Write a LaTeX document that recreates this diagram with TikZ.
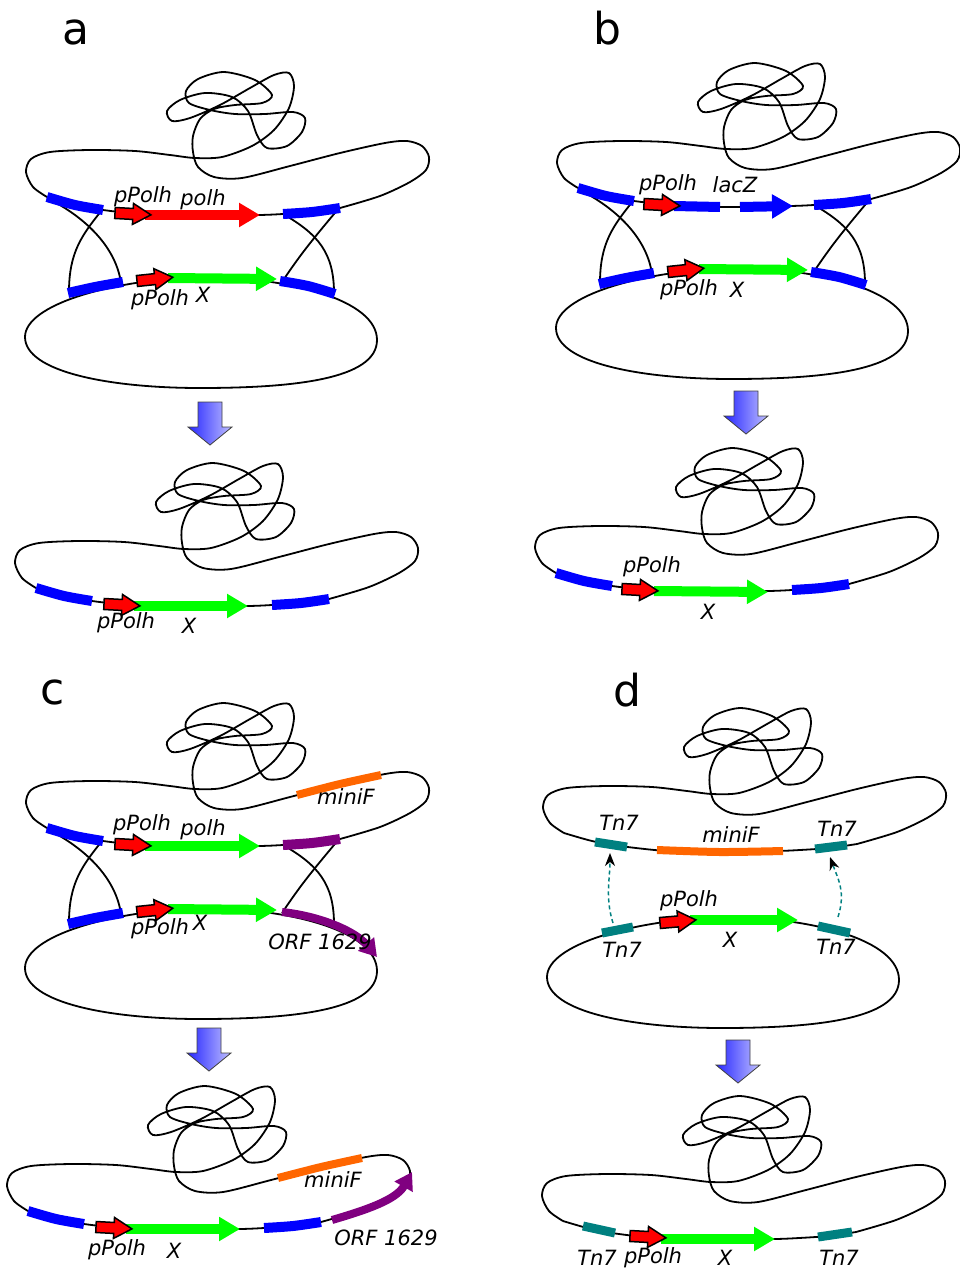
\documentclass[tikz,border=0pt]{standalone}
\usepackage{fontspec}
\setmainfont{DejaVu Sans}
\usetikzlibrary{arrows.meta}

\definecolor{genegreen}{RGB}{0,255,0}
\definecolor{minifo}{RGB}{255,102,0}
\definecolor{orfpurple}{RGB}{128,0,128}
\definecolor{tnteal}{RGB}{0,128,128}

\tikzset{
	dna/.style={line width=1.8pt, line join=round},
	site/.style={line width=10pt},
	gene/.style={line width=10pt, -{Triangle[width=23pt,length=21pt]}},
	orf/.style={orfpurple, line width=8pt, -{Triangle[width=20pt,length=17pt]}},
	hop/.style={tnteal, line width=1.5pt, dash pattern=on 4pt off 3pt,
		-{Stealth[color=black,width=10pt,length=13pt,inset=4pt]}},
	lbl/.style={font=\fontsize{21}{24}\selectfont\itshape, inner sep=0pt},
	tag/.style={font=\fontsize{44}{50}\selectfont, inner sep=0pt},
	% bacmid: loop, tangle and the strand carrying the genes
	bacmid/.pic={
		\draw[dna] plot[smooth] coordinates {
			(47,197) (33,187) (26,172) (31,159) (50,152) (90,150) (135,151) (170,155) (195,158)
			(222,157) (252,146) (274,130) (289,108) (294,86) (289,73) (274,75) (250,88) (220,105)
			(190,118) (172,121) (167,111) (180,100) (205,93) (232,97) (248,111) (257,135) (267,148)
			(287,146) (302,132) (305,118) (293,112) (265,114) (235,114) (210,110) (189,103) (186,91)
			(198,79) (224,72) (255,80) (272,95) (262,103) (235,105) (214,109) (200,119) (193,136)
			(193,152) (198,167) (214,177) (242,178) (290,166) (340,153) (385,143) (407,141)
			(422,146) (429,157) (426,170) (410,182) (380,196) (340,208)};
		\draw[dna] plot[smooth] coordinates {(47,197) (75,205) (103,210) (150,215) (205,216)
			(260,215) (283,214) (312,212) (340,208)};
	},
	% transfer vector
	donor/.pic={
		\draw[dna] (25,337) .. controls (25,305) and (110,280) .. (200,277)
			.. controls (290,277) and (377,300) .. (377,340)
			.. controls (377,380) and (290,388) .. (200,388)
			.. controls (110,388) and (25,372) .. (25,337) -- cycle;
	},
	% the two crossings between bacmid and vector
	crossover/.pic={
		\coordinate (-tl1) at (47,198); \coordinate (-tl2) at (102,210);
		\coordinate (-tr1) at (283,214); \coordinate (-tr2) at (339,208);
		\coordinate (-bl1) at (69,292); \coordinate (-bl2) at (121,283);
		\coordinate (-br1) at (282,282); \coordinate (-br2) at (334,293);
		\draw[dna] (-tl1) .. controls +(40,20) and +(-5,-35) .. (-bl2);
		\draw[dna] (-tl2) .. controls +(-20,25) and +(0,-40) .. (-bl1);
		\draw[dna] (-tr1) .. controls +(35,20) and +(0,-40) .. (-br2);
		\draw[dna] (-tr2) .. controls +(-25,30) and +(20,-30) .. (-br1);
	},
	promoter/.pic={
		\draw[fill=red, line width=1.5pt, line join=miter] (0,-5.5) -- (18,-5.5) -- (18,-10.5)
			-- (36,0) -- (18,10.5) -- (18,5.5) -- (0,5.5) -- cycle;
	},
	downarrow/.pic={
		\shade[left color=blue!85, right color=blue!25, draw=black!75, line width=0.8pt]
			(-12,0) -- (12,0) -- (12,25) -- (22,25) -- (0,43) -- (-22,25) -- (-12,25) -- cycle;
	},
}

\begin{document}
\begin{tikzpicture}[x=1pt, y=-1pt]
	\useasboundingbox (0,0) rectangle (959,1271);

	%% a: polh replaced by X %%
	\node[tag] (tag-a) at (76,32) {a};
	\pic {bacmid};
	\pic {donor};
	\pic (a) {crossover};
	\draw[site, blue] plot[smooth] coordinates {(47,197) (75,205) (103,210)};
	\draw[site, blue] plot[smooth] coordinates {(283,214) (312,212) (340,208)};
	\draw[site, blue] plot[smooth] coordinates {(68,293) (95,287) (123,282)};
	\draw[site, blue] plot[smooth] coordinates {(280,281) (308,286) (335,294)};
	\draw[gene, red] (145,215) -- (260,215);
	\pic[rotate=-3] at (115,213) {promoter};
	\draw[gene, genegreen] (168,278) -- (277,279);
	\pic[rotate=6] at (137,281) {promoter};
	\node[lbl] (a-pp1) at (143,197) {pPolh};
	\node[lbl] (a-polh) at (203,200) {polh};
	\node[lbl] (a-pp2) at (160,300) {pPolh};
	\node[lbl] (a-x) at (203,295) {X};

	\pic at (210,402) {downarrow};

	% result
	\begin{scope}[shift={(-11,391)}]
		\pic {bacmid};
		\draw[site, blue] plot[smooth] coordinates {(47,197) (75,205) (103,210)};
		\draw[site, blue] plot[smooth] coordinates {(283,214) (312,212) (340,208)};
		\draw[gene, genegreen] (145,215) -- (259,215);
		\pic[rotate=-3] at (115,213) {promoter};
		\node[lbl] (a-pp3) at (137,232) {pPolh};
		\node[lbl] (a-x2) at (200,235) {X};
	\end{scope}

	%% b: lacZ replaced by X %%
	\node[tag] (tag-b) at (607,28) {b};
	\begin{scope}[shift={(531,-9)}]
		\pic {bacmid};
		\pic {donor};
		\pic (b) {crossover};
		\draw[site, blue] plot[smooth] coordinates {(47,197) (75,205) (103,210)};
		\draw[site, blue] plot[smooth] coordinates {(283,214) (312,212) (340,208)};
		\draw[site, blue] plot[smooth] coordinates {(68,293) (95,287) (123,282)};
		\draw[site, blue] plot[smooth] coordinates {(280,281) (308,286) (335,294)};
		\draw[site, blue] (143,215) -- (189,216); % lacZ, split
		\draw[gene, blue] (209,216) -- (262,215);
		\pic[rotate=-3] at (113,213) {promoter};
		\draw[gene, genegreen] (168,278) -- (277,279);
		\pic[rotate=6] at (137,281) {promoter};
		\node[lbl] (b-pp1) at (137,194) {pPolh};
		\node[lbl] (b-lacz) at (204,194) {lacZ};
		\node[lbl] (b-pp2) at (158,299) {pPolh};
		\node[lbl] (b-x) at (206,299) {X};
	\end{scope}

	\pic at (746,391) {downarrow};

	% result
	\begin{scope}[shift={(509,376)}]
		\pic {bacmid};
		\draw[site, blue] plot[smooth] coordinates {(47,197) (75,205) (103,210)};
		\draw[site, blue] plot[smooth] coordinates {(283,214) (312,212) (340,208)};
		\draw[gene, genegreen] (145,215) -- (259,216);
		\pic[rotate=-3] at (113,213) {promoter};
		\node[lbl] (b-pp3) at (143,191) {pPolh};
		\node[lbl] (b-x2) at (199,236) {X};
	\end{scope}

	%% c: ORF 1629 rescue %%
	\node[tag] (tag-c) at (53,692) {c};
	\begin{scope}[shift={(0,631)}]
		\pic {bacmid};
		\pic {donor};
		\pic (c) {crossover};
		\draw[site, blue] plot[smooth] coordinates {(47,197) (75,205) (103,210)};
		\draw[site, orfpurple] plot[smooth] coordinates {(283,214) (312,212) (340,208)};
		\draw[site, blue] plot[smooth] coordinates {(68,293) (95,287) (123,282)};
		\draw[site, minifo, line width=8pt] plot[smooth] coordinates {(297,164) (340,153) (381,144)};
		\draw[gene, genegreen] (145,215) -- (260,215);
		\pic[rotate=-3] at (115,213) {promoter};
		\draw[gene, genegreen] (168,278) -- (277,279);
		\pic[rotate=6] at (137,281) {promoter};
		\draw[orf] (282,281) .. controls (320,285) and (355,300) .. (377,326);
		\node[lbl] (c-pp1) at (142,194) {pPolh};
		\node[lbl] (c-polh) at (203,199) {polh};
		\node[lbl] (c-minif) at (346,166) {miniF};
		\node[lbl] (c-pp2) at (160,298) {pPolh};
		\node[lbl] (c-x) at (200,292) {X};
		\node[lbl] (c-orf) at (320,311) {ORF 1629};
	\end{scope}

	\pic at (209,1028) {downarrow};

	% result
	\begin{scope}[shift={(-19,1014)}]
		\pic {bacmid};
		\draw[site, blue] plot[smooth] coordinates {(47,197) (75,205) (103,210)};
		\draw[site, blue] plot[smooth] coordinates {(283,214) (312,212) (340,208)};
		\draw[site, minifo, line width=8pt] plot[smooth] coordinates {(297,164) (340,153) (381,144)};
		\draw[gene, genegreen] (145,215) -- (259,215);
		\pic[rotate=-3] at (115,213) {promoter};
		\draw[orf] (351,206) .. controls (385,196) and (415,186) .. (431,158);
		\node[lbl] (c-minif2) at (352,166) {miniF};
		\node[lbl] (c-orf2) at (405,224) {ORF 1629};
		\node[lbl] (c-pp3) at (136,236) {pPolh};
		\node[lbl] (c-x2) at (193,237) {X};
	\end{scope}

	%% d: Tn7 transposition %%
	\node[tag] (tag-d) at (627,690) {d};
	\begin{scope}[shift={(517,636)}]
		\pic {bacmid};
		\draw[site, tnteal, line width=9pt] (78,206) -- (110,211);
		\draw[site, minifo, line width=8pt] plot[smooth] coordinates {(140,214) (203,216) (266,215)};
		\draw[site, tnteal, line width=9pt] (298,213) -- (330,209);
		\coordinate (d-dstL) at (93,217);
		\coordinate (d-dstR) at (313,221);
		\node[lbl] (d-tn1) at (102,187) {Tn7};
		\node[lbl] (d-minif) at (214,199) {miniF};
		\node[lbl] (d-tn2) at (320,193) {Tn7};
	\end{scope}
	\begin{scope}[shift={(522,640)}]
		\pic {donor};
		\draw[site, tnteal, line width=9pt] (80,293) -- (111,287);
		\draw[site, tnteal, line width=9pt] (296,286) -- (328,293);
		\draw[gene, genegreen] (168,280) -- (276,280);
		\pic[rotate=5] at (138,283) {promoter};
		\coordinate (d-srcL) at (91,283);
		\coordinate (d-srcR) at (316,277);
		\node[lbl] (d-tn3) at (100,310) {Tn7};
		\node[lbl] (d-pp1) at (167,261) {pPolh};
		\node[lbl] (d-x) at (208,300) {X};
		\node[lbl] (d-tn4) at (314,307) {Tn7};
	\end{scope}
	\draw[hop] (d-srcL) .. controls +(-8,-25) and +(0,25) .. (d-dstL);
	\draw[hop] (d-srcR) .. controls +(8,-25) and +(8,22) .. (d-dstR);

	\pic at (738,1040) {downarrow};

	% result
	\begin{scope}[shift={(516,1024)}]
		\pic {bacmid};
		\draw[site, tnteal, line width=9pt] (67,202) -- (99,209);
		\draw[site, tnteal, line width=9pt] (302,213) -- (336,208);
		\draw[gene, genegreen] (145,215) -- (259,215);
		\pic[rotate=-3] at (114,212) {promoter};
		\node[lbl] (d-tn5) at (81,234) {Tn7};
		\node[lbl] (d-pp2) at (137,234) {pPolh};
		\node[lbl] (d-x2) at (209,234) {X};
		\node[lbl] (d-tn6) at (323,234) {Tn7};
	\end{scope}
\end{tikzpicture}
\end{document}
